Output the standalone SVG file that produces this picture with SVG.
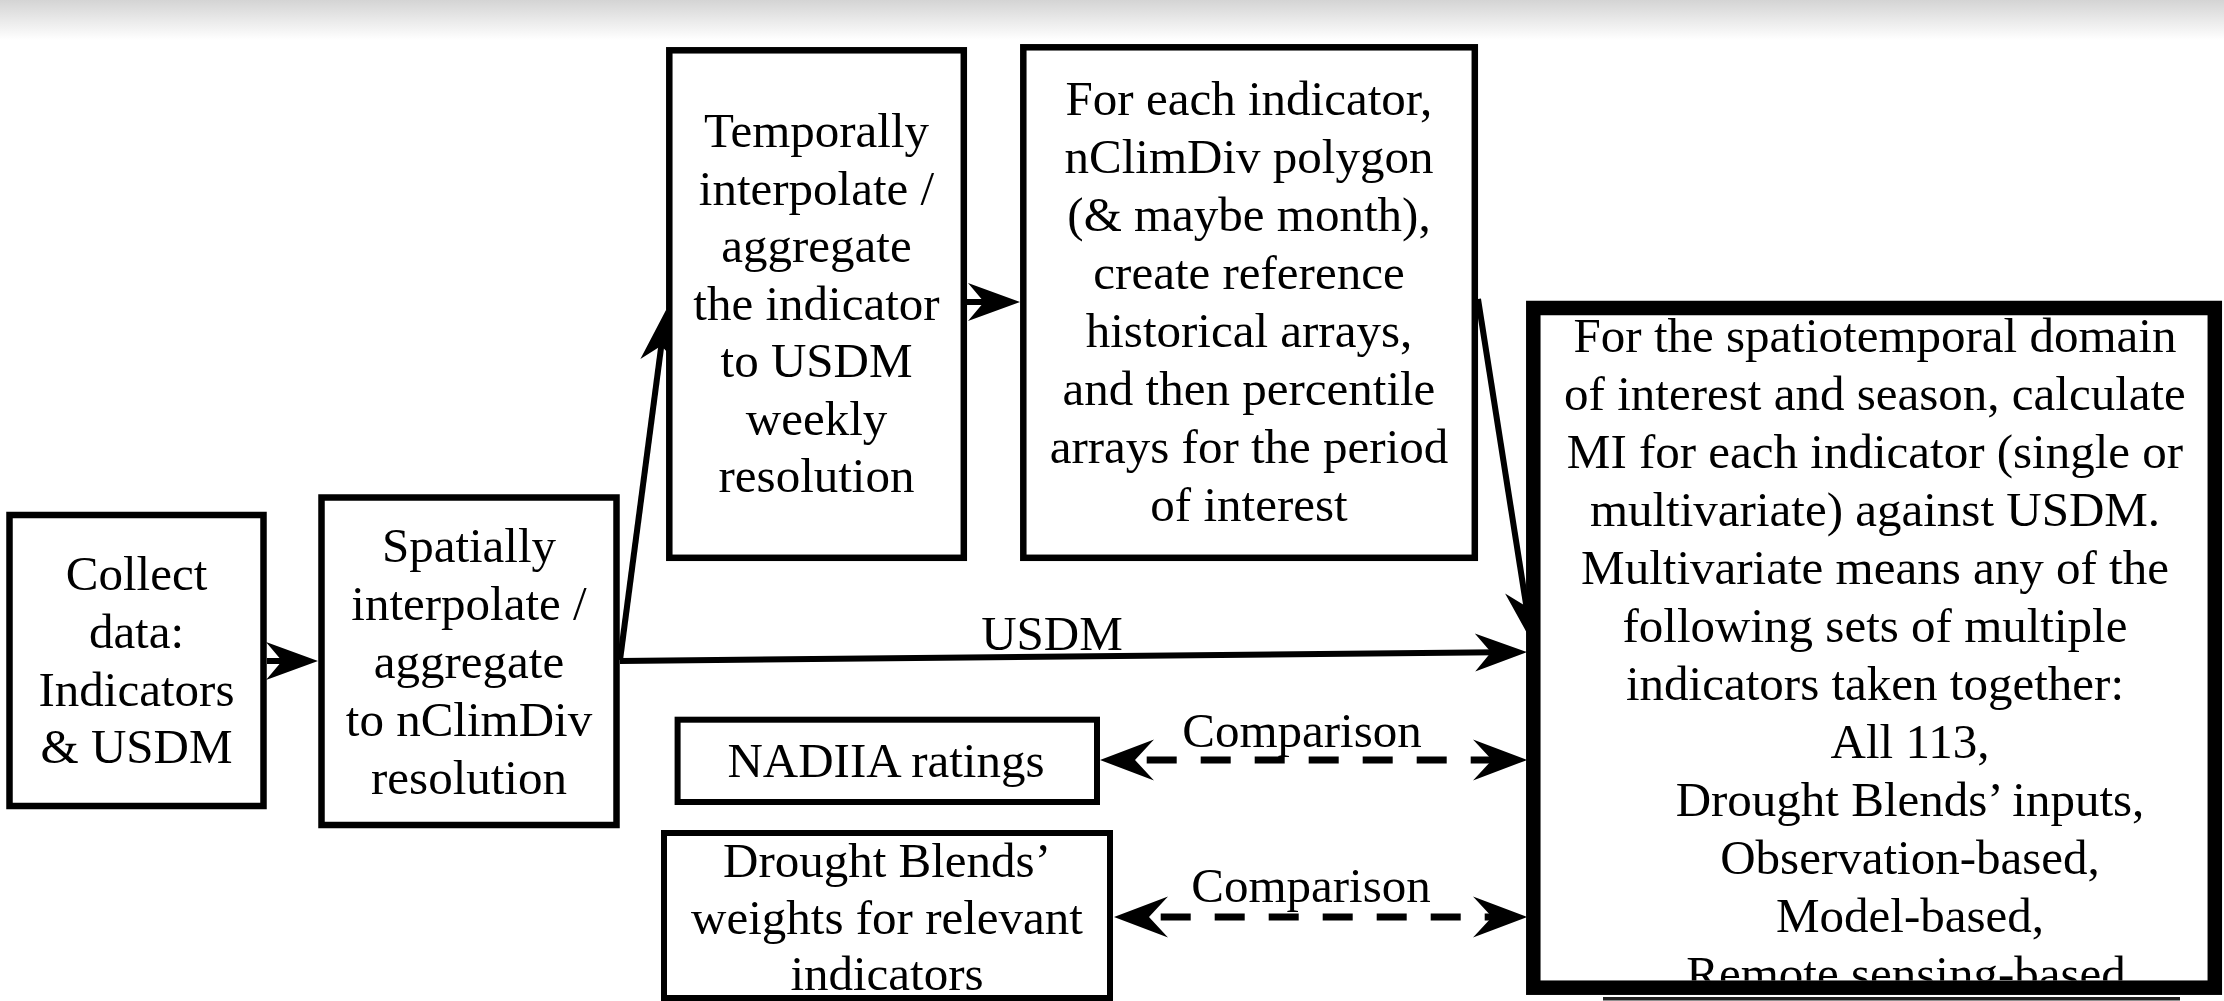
<svg xmlns="http://www.w3.org/2000/svg" width="2224" height="1001" viewBox="0 0 2224 1001">
<style>
.box{fill:#fff;stroke:#000;stroke-width:6.5}
.sbox{fill:#fff;stroke:#000;stroke-width:6}
.big{fill:#fff;stroke:#000;stroke-width:14.5}
.t{font-family:"Liberation Serif","Times New Roman",serif;font-size:49px;fill:#000;text-anchor:middle}
.ln{fill:none;stroke:#000;stroke-width:6}
.dl{fill:none;stroke:#000;stroke-width:7;stroke-dasharray:30 24;stroke-dashoffset:37.3}
</style>
<defs>
<linearGradient id="topg" x1="0" y1="0" x2="0" y2="1">
<stop offset="0" stop-color="#d4d4d4"/>
<stop offset="1" stop-color="#ffffff"/>
</linearGradient>
<marker id="ah" markerUnits="userSpaceOnUse" viewBox="-25 -22 58 44" markerWidth="58" markerHeight="44" refX="0" refY="0" orient="auto" overflow="visible">
<path d="M30,0 L-22,-19 L-6,0 L-22,19 Z" fill="#000" stroke="none"/>
</marker>
<marker id="ahd" markerUnits="userSpaceOnUse" viewBox="-28 -24 62 48" markerWidth="62" markerHeight="48" refX="0" refY="0" orient="auto-start-reverse" overflow="visible">
<path d="M30,0 L-24,-20.5 L-5,0 L-24,20.5 Z" fill="#000" stroke="none"/>
</marker>
<clipPath id="bigclip"><rect x="1541" y="315" width="666.5" height="665.5"/></clipPath>
</defs>
<rect x="0" y="0" width="2224" height="1001" fill="#fff"/>
<rect x="0" y="0" width="2224" height="40" fill="url(#topg)"/>

<g id="connectors">
<line class="ln" x1="267" y1="661" x2="288" y2="661" marker-end="url(#ah)"/>
<line class="ln" x1="620" y1="660" x2="662.1" y2="339.7" marker-end="url(#ah)"/>
<line class="ln" x1="967" y1="302" x2="990" y2="302" marker-end="url(#ah)"/>
<line class="ln" x1="620" y1="661" x2="1497" y2="652.3" marker-end="url(#ah)"/>
<line class="ln" x1="1478" y1="299" x2="1527.3" y2="612.4" marker-end="url(#ah)"/>
<line class="dl" x1="1130" y1="760" x2="1497" y2="760" marker-start="url(#ahd)" marker-end="url(#ahd)"/>
<line class="dl" x1="1144" y1="917" x2="1497" y2="917" marker-start="url(#ahd)" marker-end="url(#ahd)"/>
<text class="t" x="1052" y="650">USDM</text>
<text class="t" x="1302" y="747">Comparison</text>
<text class="t" x="1311" y="902">Comparison</text>
</g>

<g id="collect">
<rect class="box" x="9.5" y="515" width="254" height="291"/>
<text class="t"><tspan x="136.5" y="590">Collect</tspan><tspan x="136.5" y="648">data:</tspan><tspan x="136.5" y="705.5">Indicators</tspan><tspan x="136.5" y="763">&amp; USDM</tspan></text>
</g>

<g id="spatial">
<rect class="box" x="321.5" y="497.5" width="295" height="327.5"/>
<text class="t"><tspan x="469" y="562">Spatially</tspan><tspan x="469" y="620">interpolate /</tspan><tspan x="469" y="678">aggregate</tspan><tspan x="469" y="736">to nClimDiv</tspan><tspan x="469" y="794">resolution</tspan></text>
</g>

<g id="temporal">
<rect class="box" x="669.3" y="50.3" width="294.5" height="507.5"/>
<text class="t"><tspan x="816.5" y="147">Temporally</tspan><tspan x="816.5" y="204.5">interpolate /</tspan><tspan x="816.5" y="262">aggregate</tspan><tspan x="816.5" y="319.5">the indicator</tspan><tspan x="816.5" y="377">to USDM</tspan><tspan x="816.5" y="434.5">weekly</tspan><tspan x="816.5" y="492">resolution</tspan></text>
</g>

<g id="reference">
<rect class="box" x="1023.3" y="47.3" width="451.5" height="510.5"/>
<text class="t"><tspan x="1249" y="115">For each indicator,</tspan><tspan x="1249" y="173">nClimDiv polygon</tspan><tspan x="1249" y="231">(&amp; maybe month),</tspan><tspan x="1249" y="289">create reference</tspan><tspan x="1249" y="347">historical arrays,</tspan><tspan x="1249" y="405">and then percentile</tspan><tspan x="1249" y="463">arrays for the period</tspan><tspan x="1249" y="521">of interest</tspan></text>
</g>

<g id="nadiia">
<rect class="sbox" x="677.6" y="719.7" width="419.4" height="82.3"/>
<text class="t" x="886" y="777">NADIIA ratings</text>
</g>

<g id="weights">
<rect class="sbox" x="664" y="833" width="446" height="165"/>
<text class="t"><tspan x="887" y="877">Drought Blends’</tspan><tspan x="887" y="933.5">weights for relevant</tspan><tspan x="887" y="990">indicators</tspan></text>
</g>

<g id="mi">
<rect x="1603" y="997" width="577" height="3.5" fill="#222"/>
<rect class="big" x="1533.3" y="308" width="681.5" height="679.7"/>
<text class="t" clip-path="url(#bigclip)"><tspan x="1875" y="351.7">For the spatiotemporal domain</tspan><tspan x="1875" y="409.7">of interest and season, calculate</tspan><tspan x="1875" y="467.7">MI for each indicator (single or</tspan><tspan x="1875" y="525.7">multivariate) against USDM.</tspan><tspan x="1875" y="583.7">Multivariate means any of the</tspan><tspan x="1875" y="641.7">following sets of multiple</tspan><tspan x="1875" y="699.7">indicators taken together:</tspan><tspan x="1910" y="757.7">All 113,</tspan><tspan x="1910" y="815.7">Drought Blends’ inputs,</tspan><tspan x="1910" y="873.7">Observation-based,</tspan><tspan x="1910" y="931.7">Model-based,</tspan><tspan x="1906" y="989.7">Remote sensing-based</tspan></text>
</g>
</svg>
